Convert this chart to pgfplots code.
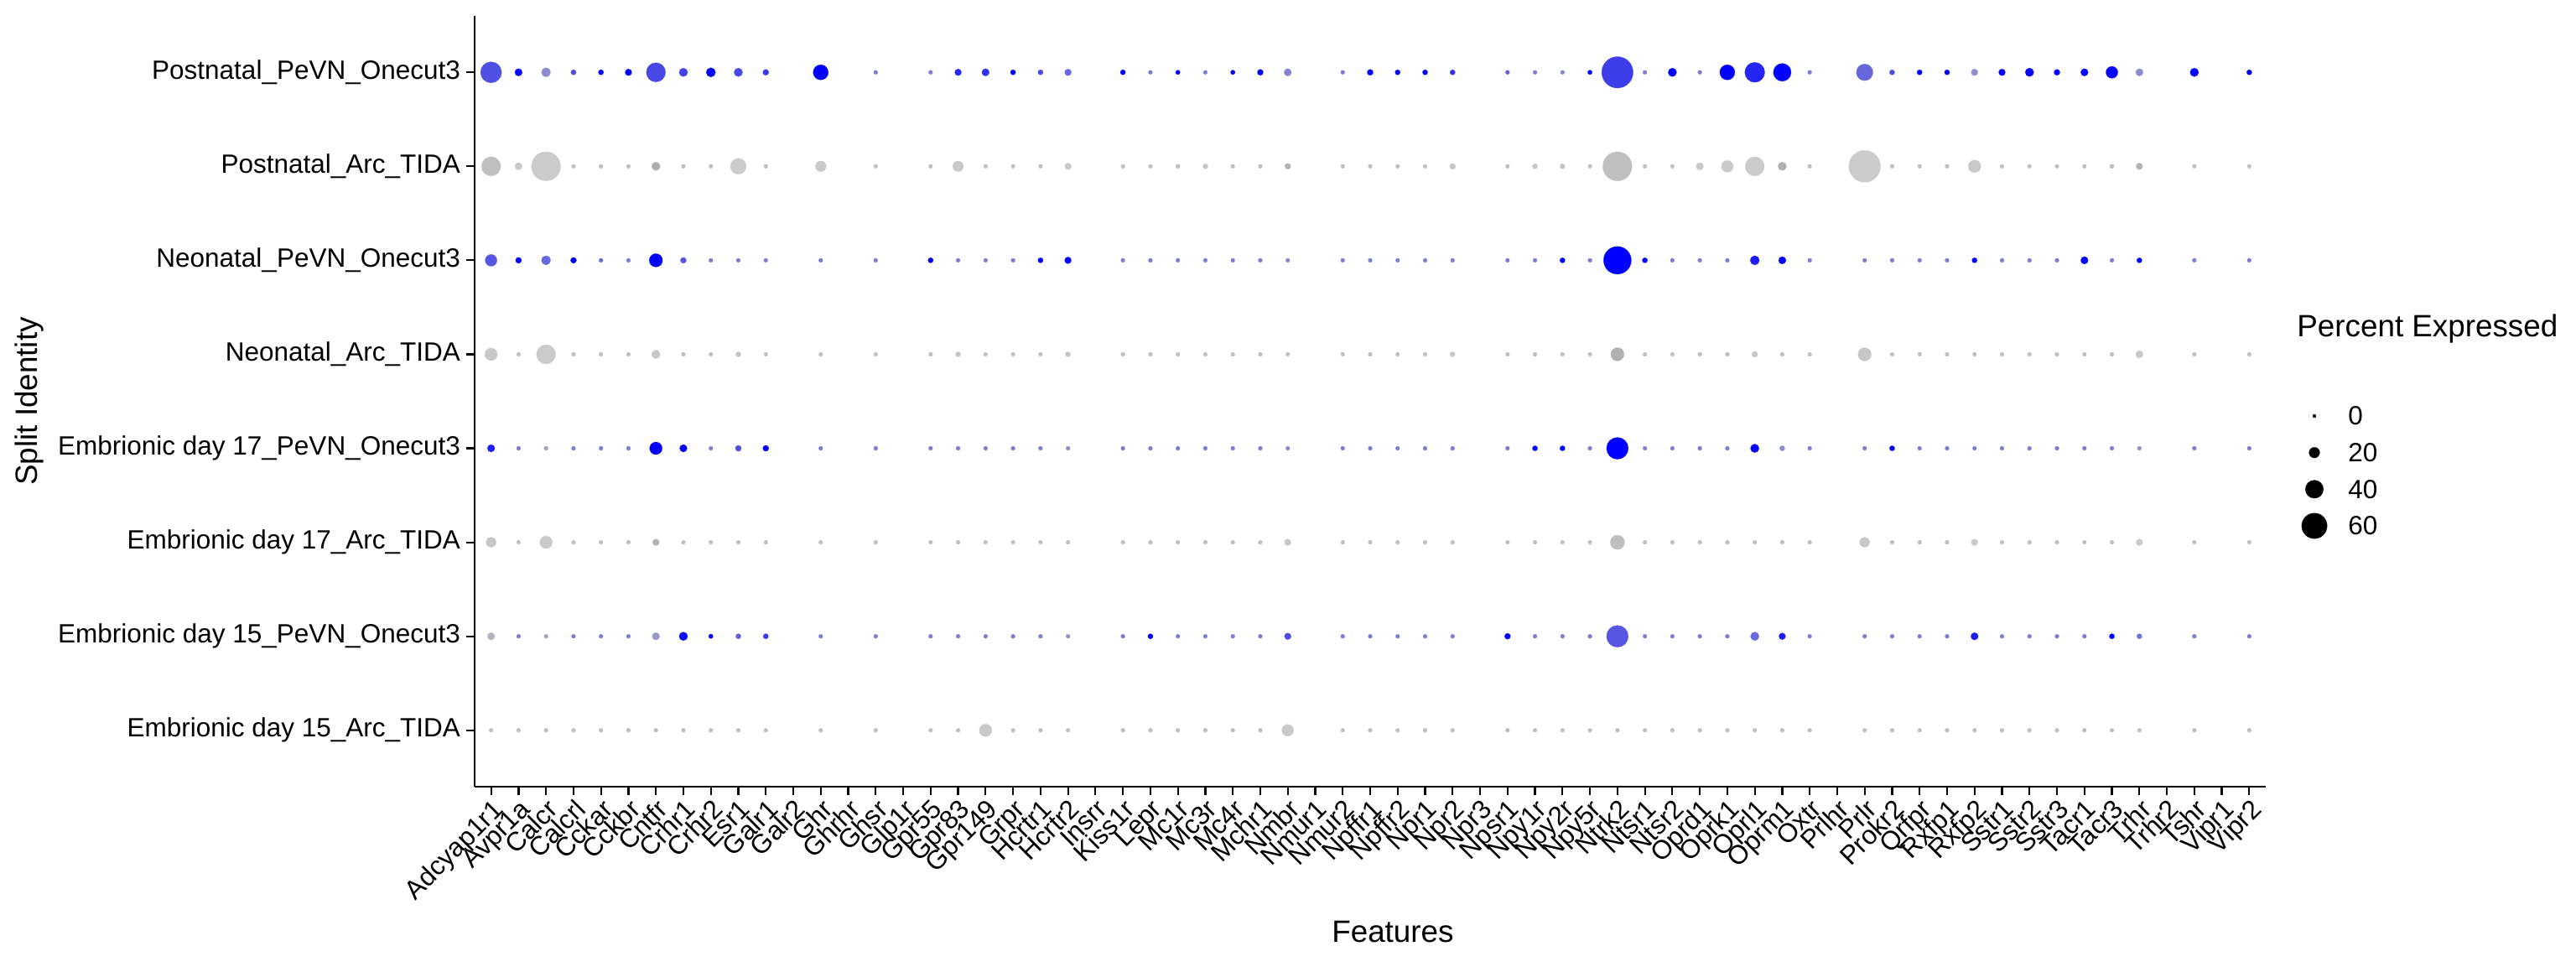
\documentclass[border=0pt]{standalone}
\usepackage{pgfplots}
\usepackage{pgfplotstable}
\pgfplotsset{compat=1.18}
\usepackage{fontspec}
\setmainfont{Liberation Sans}
\newcommand\tickfont{\fontsize{15.75pt}{18pt}\selectfont}
\newcommand\titlefont{\fontsize{18.4pt}{21pt}\selectfont}
\definecolor{pb}{RGB}{0,0,255}
\definecolor{pg}{RGB}{190,190,190}
\definecolor{ad}{RGB}{166,166,166}
\definecolor{al}{RGB}{210,210,210}
% x = feature index; p = percent expressed; e = scaled average expression (0-100)
% a=Postnatal_PeVN b=Postnatal_Arc c=Neonatal_PeVN d=Neonatal_Arc f=E17_PeVN g=E17_Arc h=E15_PeVN i=E15_Arc
\pgfplotstableread{
x pa ea pb eb pc ec pd ed pf ef pg eg ph eh pi ei
1 48 58 43 40 23 55 25 20 11 85 18 25 11 5 2 43
2 11 100 11 20 7 100 2 43 2 35 2 43 2 35 2 43
3 16 25 70 15 16 45 43 15 2 15 25 20 2 15 2 43
4 5 60 2 43 7 100 2 43 2 35 2 43 2 35 2 43
5 5 100 2 43 2 45 2 43 2 35 2 43 2 35 2 43
6 9 100 2 43 2 35 2 43 2 35 2 43 2 35 2 43
7 43 62 14 80 27 100 14 25 25 100 9 70 11 20 2 43
8 14 65 2 43 7 55 2 43 11 100 2 43 14 95 2 43
9 16 100 2 43 2 35 2 43 2 35 2 43 3 100 2 43
10 14 62 34 15 2 35 5 30 7 60 2 43 5 50 2 43
11 7 70 2 43 2 35 2 43 7 100 2 43 5 70 2 43
13 32 100 20 20 2 35 2 43 2 35 2 43 2 35 2 43
15 2 35 2 43 2 35 2 43 2 35 2 43 2 35 2 43
17 2 35 2 43 5 100 2 43 2 35 2 43 2 35 2 43
18 9 80 20 20 2 35 5 30 2 35 2 43 2 35 2 43
19 11 75 2 43 2 35 2 43 2 35 2 43 2 35 25 20
20 5 100 2 43 2 35 2 43 2 35 2 43 2 35 2 43
21 5 60 2 43 5 100 2 43 2 35 2 43 2 35 2 43
22 9 45 9 20 9 100 5 30 2 25 2 43 2 25 2 43
24 5 100 2 43 2 35 2 43 2 35 2 43 2 35 2 43
25 2 35 2 43 2 35 2 43 2 35 2 43 5 100 2 43
26 3 100 3 43 2 35 2 43 2 35 2 43 2 35 2 43
27 2 35 5 25 2 35 2 43 2 35 2 43 2 35 2 43
28 3 100 2 43 2 35 2 43 2 35 2 43 2 35 2 43
29 7 100 2 43 2 35 2 43 2 35 2 43 2 35 2 43
30 11 30 7 70 2 30 2 43 2 30 9 20 9 60 23 20
32 2 35 2 43 2 35 2 43 2 35 2 43 2 35 2 43
33 7 100 2 43 2 35 2 43 2 35 2 43 2 35 2 43
34 5 100 2 43 2 35 2 43 2 35 2 43 2 35 2 43
35 5 100 2 43 2 35 2 43 2 35 2 43 2 35 2 43
36 5 75 7 25 2 35 5 25 2 35 2 43 2 35 2 43
38 2 50 2 43 2 35 2 43 2 35 2 43 7 100 2 43
39 2 35 5 25 2 35 2 43 5 100 2 43 2 35 2 43
40 2 30 5 25 5 100 2 43 5 100 2 43 2 35 2 43
41 3 100 2 43 2 35 2 43 2 35 2 43 2 35 2 43
42 76 68 70 43 66 100 27 76 50 100 30 43 50 55 2 43
43 2 35 2 43 5 100 2 43 2 35 2 43 2 35 2 43
44 14 100 2 43 2 35 2 43 2 35 2 43 2 35 2 43
45 2 35 11 20 2 35 2 43 2 35 2 43 2 35 2 43
46 32 100 23 20 2 35 2 43 2 35 2 43 2 35 2 43
47 45 80 43 15 16 85 7 25 14 100 2 43 14 45 2 43
48 39 100 14 76 11 100 2 43 5 25 2 43 9 85 2 43
49 2 35 2 43 2 35 2 43 2 35 2 43 2 35 2 43
51 36 45 77 15 2 35 27 25 2 35 18 25 2 35 2 43
52 5 60 2 43 2 35 2 43 5 100 2 43 2 35 2 43
53 5 100 2 43 2 35 2 43 2 35 2 43 2 35 2 43
54 5 100 2 43 2 35 2 43 2 35 2 43 2 35 2 43
55 9 25 25 20 5 100 2 43 2 35 9 20 11 85 2 43
56 9 100 2 43 2 35 2 43 2 35 2 43 2 35 2 43
57 14 100 2 43 2 35 2 43 2 35 2 43 2 35 2 43
58 7 100 2 43 2 35 2 43 2 35 2 43 2 35 2 43
59 11 100 2 43 11 100 2 43 2 35 2 43 2 35 2 43
60 23 100 3 43 2 35 2 43 2 35 2 43 5 100 2 43
61 11 25 9 70 5 100 11 20 2 25 9 20 5 40 2 43
63 14 100 2 43 2 35 2 43 2 35 2 43 2 35 2 43
65 5 100 2 43 2 35 2 43 2 35 2 43 2 35 2 43
}\dotdata
\pgfplotstableread{
x y p
0.5 0 0
0.5 20 20
0.5 40 40
0.5 60 60
}\legdata
\pgfplotsset{
  dotpe/.style n args={2}{only marks, mark=*, scatter, point meta=\thisrow{#2},
    visualization depends on={1+0.11*\thisrow{#1}\as\msz},
    visualization depends on={\thisrow{#2}\as\mix},
    scatter/@pre marker code/.code={\pgfmathtruncatemacro\mixi{\mix}\colorlet{mc}{pb!\mixi!pg}%
      \scope[mark size=\msz pt, fill=mc, draw=mc, line width=0.1pt]},
    scatter/@post marker code/.code={\endscope}},
  dotarc/.style n args={2}{only marks, mark=*, scatter, point meta=\thisrow{#2},
    visualization depends on={1+0.11*\thisrow{#1}\as\msz},
    visualization depends on={\thisrow{#2}\as\mix},
    scatter/@pre marker code/.code={\pgfmathtruncatemacro\mixi{\mix}\colorlet{mc}{ad!\mixi!al}%
      \scope[mark size=\msz pt, fill=mc, draw=mc, line width=0.1pt]},
    scatter/@post marker code/.code={\endscope}},
}
\begin{document}
\begin{tikzpicture}
\useasboundingbox (-283pt,-107pt) rectangle (1253pt,469pt);
\begin{axis}[
  at={(0,0)}, anchor=south west,
  scale only axis, width=1068pt, height=459.5pt,
  xmin=0.4, xmax=65.6, ymin=0.4, ymax=8.6,
  axis x line*=bottom, axis y line*=left,
  axis line style={line width=1.2pt, black},
  tick align=outside, major tick length=5pt,
  tick style={line width=1.1pt, black},
  xtick={1,...,65},
  xticklabels={Adcyap1r1,Avpr1a,Calcr,Calcrl,Cckar,Cckbr,Cntfr,Crhr1,Crhr2,Esr1,Galr1,Galr2,Ghr,Ghrhr,Ghsr,Glp1r,Gpr55,Gpr83,Gpr149,Grpr,Hcrtr1,Hcrtr2,Insrr,Kiss1r,Lepr,Mc1r,Mc3r,Mc4r,Mchr1,Nmbr,Nmur1,Nmur2,Npffr1,Npffr2,Npr1,Npr2,Npr3,Npsr1,Npy1r,Npy2r,Npy5r,Ntrk2,Ntsr1,Ntsr2,Oprd1,Oprk1,Oprl1,Oprm1,Oxtr,Prlhr,Prlr,Prokr2,Qrfpr,Rxfp1,Rxfp2,Sstr1,Sstr2,Sstr3,Tacr1,Tacr3,Trhr,Trhr2,Tshr,Vipr1,Vipr2},
  ytick={1,...,8},
  yticklabels={Embrionic day 15\_Arc\_TIDA,Embrionic day 15\_PeVN\_Onecut3,Embrionic day 17\_Arc\_TIDA,Embrionic day 17\_PeVN\_Onecut3,Neonatal\_Arc\_TIDA,Neonatal\_PeVN\_Onecut3,Postnatal\_Arc\_TIDA,Postnatal\_PeVN\_Onecut3},
  xticklabel style={rotate=45, anchor=north east, font=\tickfont, inner sep=1pt},
  yticklabel style={font=\tickfont},
  xlabel={Features}, ylabel={Split Identity},
  xlabel style={at={(axis description cs:0.5126,-0.188)}, anchor=center, font=\titlefont},
  ylabel style={at={(axis description cs:-0.2486,0.5)}, anchor=center, font=\titlefont},
  clip=false,
]
\addplot[dotpe={pa}{ea}] table[x=x, y expr=8] {\dotdata};
\addplot[dotarc={pb}{eb}] table[x=x, y expr=7] {\dotdata};
\addplot[dotpe={pc}{ec}] table[x=x, y expr=6] {\dotdata};
\addplot[dotarc={pd}{ed}] table[x=x, y expr=5] {\dotdata};
\addplot[dotpe={pf}{ef}] table[x=x, y expr=4] {\dotdata};
\addplot[dotarc={pg}{eg}] table[x=x, y expr=3] {\dotdata};
\addplot[dotpe={ph}{eh}] table[x=x, y expr=2] {\dotdata};
\addplot[dotarc={pi}{ei}] table[x=x, y expr=1] {\dotdata};
\end{axis}
\begin{axis}[
  at={(1092pt,155.5pt)}, anchor=south west,
  scale only axis, width=20pt, height=65.5pt,
  xmin=0, xmax=2, ymin=0, ymax=60, y dir=reverse,
  hide axis,
  clip=false,
]
\addplot[only marks, mark=*, scatter, point meta=\thisrow{p},
  visualization depends on={1+0.11*\thisrow{p}\as\msz},
  scatter/@pre marker code/.code={\scope[mark size=\msz pt, fill=black, draw=black, line width=0.1pt]},
  scatter/@post marker code/.code={\endscope}] table[x=x, y=y] {\legdata};
\node[anchor=west, inner sep=0pt, font=\tickfont] at (axis cs:2.5,0) {0};
\node[anchor=west, inner sep=0pt, font=\tickfont] at (axis cs:2.5,20) {20};
\node[anchor=west, inner sep=0pt, font=\tickfont] at (axis cs:2.5,40) {40};
\node[anchor=west, inner sep=0pt, font=\tickfont] at (axis cs:2.5,60) {60};
\end{axis}
\node[anchor=west, font=\titlefont, inner sep=0pt] at (1086.5pt,273pt) {Percent Expressed};
\end{tikzpicture}
\end{document}
